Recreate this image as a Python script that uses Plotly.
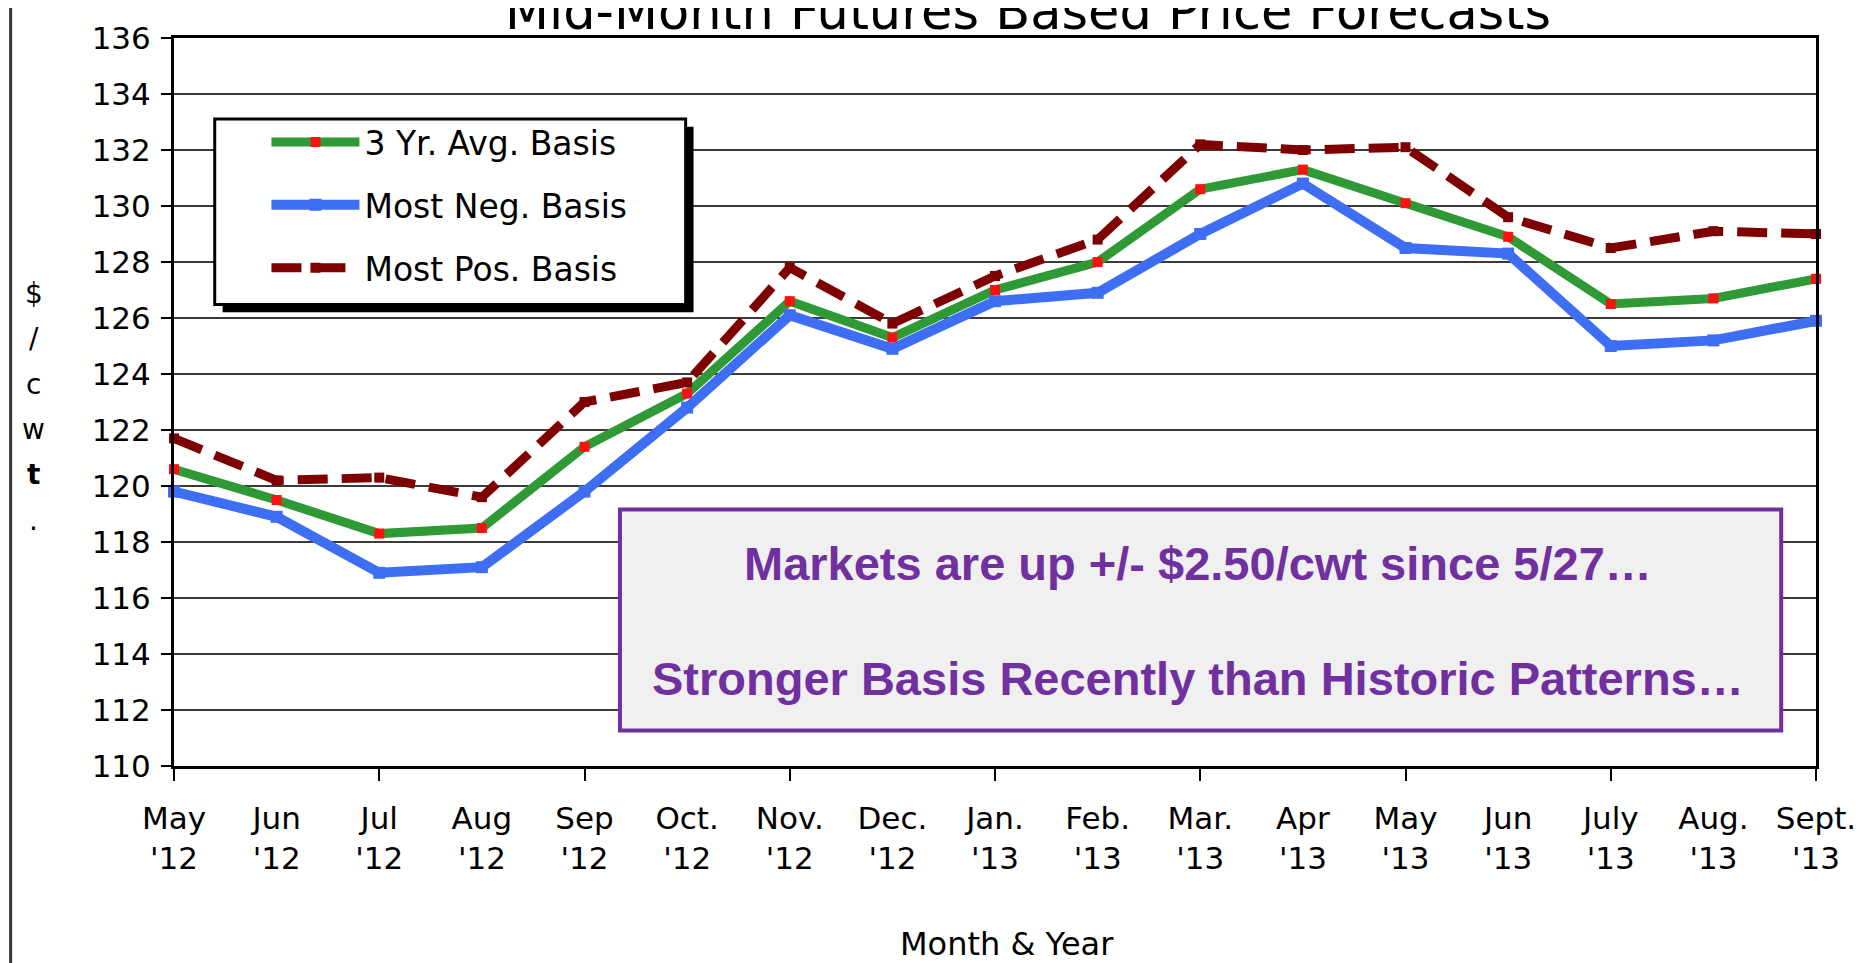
import plotly.graph_objects as go

# months on the x axis, two-line tick labels
months = ["May<br>'12", "Jun<br>'12", "Jul<br>'12", "Aug<br>'12", "Sep<br>'12",
          "Oct.<br>'12", "Nov.<br>'12", "Dec.<br>'12", "Jan.<br>'13", "Feb.<br>'13",
          "Mar.<br>'13", "Apr<br>'13", "May<br>'13", "Jun<br>'13", "July<br>'13",
          "Aug.<br>'13", "Sept.<br>'13"]

# $/cwt forecasts
avg_basis = [120.6, 119.5, 118.3, 118.5, 121.4, 123.3, 126.6, 125.3, 127.0,
             128.0, 130.6, 131.3, 130.1, 128.9, 126.5, 126.7, 127.4]
neg_basis = [119.8, 118.9, 116.9, 117.1, 119.8, 122.8, 126.1, 124.9, 126.6,
             126.9, 129.0, 130.8, 128.5, 128.3, 125.0, 125.2, 125.9]
pos_basis = [121.7, 120.2, 120.3, 119.6, 123.0, 123.7, 127.8, 125.8, 127.5,
             128.8, 132.2, 132.0, 132.1, 129.6, 128.5, 129.1, 129.0]

y_ticks = list(range(110, 137, 2))
y_title_chars = ["$", "/", "c", "w", "<b>t</b>", "."]
x = list(range(len(months)))

font = "DejaVu Sans, Verdana, sans-serif"

fig = go.Figure()
fig.add_trace(go.Scatter(x=x, y=avg_basis, name="3 Yr. Avg. Basis", mode="lines+markers",
                         line=dict(color="#2f9a35", width=9),
                         marker=dict(symbol="square", color="#ff1010", size=10),
                         legendgroup="a", cliponaxis=False))
fig.add_trace(go.Scatter(x=x, y=neg_basis, name="Most Neg. Basis", mode="lines+markers",
                         line=dict(color="#3d6ef4", width=10),
                         marker=dict(symbol="square", color="#3d6ef4", size=12),
                         legendgroup="b", cliponaxis=False))
# on the overlaid axis that carries the month labels
fig.add_trace(go.Scatter(x=x, y=pos_basis, name="Most Pos. Basis", mode="lines+markers",
                         line=dict(color="#7f0000", width=9, dash="30px,14px"),
                         marker=dict(symbol="square", color="#7f0000", size=10),
                         legendgroup="c", cliponaxis=False, xaxis="x2"))

# page body has an 8px margin, so the figure is 8px smaller than the window
fig.update_layout(
    width=1860, height=955,
    margin=dict(l=166, r=41, t=20, b=197),
    paper_bgcolor="white", plot_bgcolor="white",
    font=dict(family=font, color="black"),
    showlegend=True,
    legend=dict(x=0.0563, y=0.8957, xanchor="left", yanchor="top",
                bgcolor="rgba(0,0,0,0)", borderwidth=0,
                font=dict(size=33, family=font), tracegroupgap=17,
                itemwidth=88),
    xaxis=dict(range=[0, 16], tickvals=x[::2], showticklabels=False,
               ticks="outside", ticklen=12, tickwidth=2, tickcolor="black",
               showgrid=False, zeroline=False,
               showline=True, linecolor="black", linewidth=3, mirror=True),
    xaxis2=dict(range=[0, 16], overlaying="x", anchor="y", side="bottom",
                tickvals=x, ticktext=months, ticks="", showgrid=False,
                zeroline=False, showline=False, ticklabelstandoff=31,
                tickfont=dict(size=31, family=font)),
    yaxis=dict(range=[110, 136], tickvals=y_ticks, ticks="outside", ticklen=10,
               tickwidth=2, tickcolor="black", tickfont=dict(size=31, family=font),
               ticklabelstandoff=4,
               showgrid=True, gridcolor="#3a3a3a", gridwidth=1.5, zeroline=False,
               showline=True, linecolor="black", linewidth=3, mirror=True),
)

# legend frame with its drop shadow
fig.add_shape(type="rect", xref="paper", yref="paper",
              x0=0.0296, x1=0.3164, y0=0.6233, y1=0.878,
              fillcolor="black", line=dict(width=0))
fig.add_shape(type="rect", xref="paper", yref="paper",
              x0=0.0248, x1=0.3116, y0=0.6341, y1=0.8889,
              fillcolor="white", line=dict(color="black", width=3))

# slide border on the left
fig.add_shape(type="line", xref="paper", yref="paper",
              x0=-0.0995, x1=-0.0995, y0=-0.3, y1=1.1,
              line=dict(color="#333333", width=3))

# comment box
fig.add_shape(type="rect", xref="paper", yref="paper",
              x0=0.2716, x1=0.9788, y0=0.0488, y1=0.3523,
              fillcolor="#f0f0f0", line=dict(color="#7030a0", width=4))
box_font = dict(family="Liberation Sans, Arial, sans-serif", size=47,
                color="#7030a0", weight="bold")
fig.add_annotation(xref="paper", yref="paper", x=0.6237, y=0.2778,
                   xanchor="center", yanchor="middle", showarrow=False,
                   text="Markets are up +/- $2.50/cwt since 5/27…", font=box_font)
fig.add_annotation(xref="paper", yref="paper", x=0.6237, y=0.1206,
                   xanchor="center", yanchor="middle", showarrow=False,
                   text="Stronger Basis Recently than Historic Patterns…", font=box_font)

# title (cut off at the top edge as in the slide)
fig.add_annotation(xref="paper", yref="paper", x=0.52, y=1.037,
                   xanchor="center", yanchor="middle", showarrow=False,
                   text="Mid-Month Futures Based Price Forecasts",
                   font=dict(family=font, size=51))

# y axis title, one character per line
for i, ch in enumerate(y_title_chars):
    fig.add_annotation(xref="paper", yref="paper", x=-0.0853,
                       y=1 - (259 + 46 * i) / 738,
                       xanchor="center", yanchor="middle", showarrow=False,
                       text=ch, font=dict(family=font, size=28))

fig.add_annotation(xref="paper", yref="paper", x=0.5076, y=-0.2439,
                   xanchor="center", yanchor="middle", showarrow=False,
                   text="Month & Year", font=dict(family=font, size=32))

fig.write_html("out.html")
